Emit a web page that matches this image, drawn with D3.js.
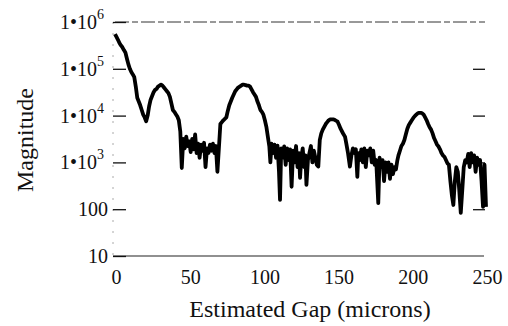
<!DOCTYPE html>
<html><head><meta charset="utf-8">
<script src="https://cdn.jsdelivr.net/npm/d3@7"></script>
<style>body{margin:0;background:#fff}svg{display:block}</style>
</head><body>
<script>
// Estimated gap (microns)
const gaps = [0,1,2,3,4,5,6,7,8,9,10,11,12,13,14,15,16,17,18,19,20,21,22,23,24,25,26,27,28,29,30,31,32,33,34,35,36,37,38,39,40,41,42,43,44,45,46,47,48,49,50,51,52,53,54,55,56,57,58,59,60,61,62,63,64,65,66,67,68,69,70,71,72,73,74,75,76,77,78,79,80,81,82,83,84,85,86,87,88,89,90,91,92,93,94,95,96,97,98,99,100,101,102,103,104,104.7,105.5,106.5,107.5,108.5,109.5,110.5,111.2,112,113,114,115,116,117,118,119,120,121,122,123,124,124.7,125.5,126.5,127.5,128.3,129,130,131,132,133,134,135,136,137,138,139,140,141,142,143,144,145,146,147,148,149,150,151,152,153,154,155,156,157,158.3,159.3,160.3,161.3,162.3,163.3,164,165,166,167,168,169,170,171,172,173,174,175,176,177.4,178.3,179.3,180.3,181.3,182.3,183.3,184.3,185.3,186.3,187.3,188.3,189.3,190.3,191,192,193,194,195,196,197,198,199,200,201,202,203,204,205,206,207,208,209,210,211,212,213,214,215,216,217,218,219,220,221,222,223,224,225,226,227,228,229,230,231,232,233,234,235,236,237,238,239,240,241,242,243,244,245,246,247,248,249,250];
// Magnitude, read as log10 of the value
const magnitudeLog10 = [5.74,5.68,5.62,5.55,5.50,5.46,5.40,5.35,5.22,5.10,5.00,4.93,4.88,4.82,4.62,4.38,4.30,4.22,4.12,4.02,3.96,3.88,4.00,4.20,4.34,4.42,4.50,4.55,4.57,4.62,4.64,4.66,4.64,4.60,4.56,4.52,4.48,4.40,4.26,4.12,4.08,4.03,3.98,3.90,3.66,2.88,3.50,3.30,3.55,3.35,3.45,3.22,3.50,3.28,3.60,3.20,3.40,3.10,3.38,3.25,3.42,2.90,3.30,3.20,3.38,3.25,3.40,3.20,3.35,2.80,3.30,3.82,3.86,3.90,3.93,3.96,4.10,4.22,4.30,4.38,4.45,4.52,4.56,4.60,4.62,4.64,4.66,4.66,4.65,4.64,4.64,4.62,4.56,4.50,4.45,4.40,4.30,4.22,4.12,4.08,4.02,3.90,3.76,3.55,3.34,3.00,3.40,3.20,3.38,3.10,3.36,2.80,2.20,3.30,3.10,3.34,2.95,3.30,3.05,3.28,2.48,3.25,3.00,3.35,2.90,3.20,2.67,3.10,3.30,2.90,3.15,2.52,3.05,3.20,3.35,3.00,3.25,3.10,2.95,2.91,3.48,3.62,3.70,3.76,3.82,3.86,3.90,3.92,3.92,3.92,3.91,3.89,3.87,3.80,3.72,3.66,3.60,3.55,3.38,3.20,2.91,3.15,3.30,3.20,3.28,2.69,3.20,3.05,3.28,3.00,3.30,2.90,3.25,3.15,3.30,3.00,3.25,2.95,3.05,2.13,3.10,2.90,3.05,2.60,3.00,2.80,3.00,2.65,2.95,2.75,2.90,2.85,3.05,3.15,3.25,3.35,3.40,3.48,3.60,3.72,3.80,3.85,3.90,3.95,3.99,4.02,4.05,4.06,4.06,4.05,4.02,3.96,3.90,3.82,3.75,3.70,3.62,3.52,3.45,3.38,3.34,3.28,3.20,3.15,3.12,3.05,2.98,2.95,2.60,2.30,2.09,2.60,2.90,2.80,2.40,1.92,2.40,2.90,3.05,3.00,3.18,2.90,3.20,3.00,3.15,2.80,3.10,2.95,3.05,2.60,2.05,2.95,2.05];
const xTicks = [0,50,100,150,200,250];
const yTicks = [1e1,1e2,1e3,1e4,1e5,1e6];
const yTickLabels = [["10",""],["100",""],["1\u202210","3"],["1\u202210","4"],["1\u202210","5"],["1\u202210","6"]];
const xTitle = "Estimated Gap (microns)";
const yTitle = "Magnitude";

const W = 508, H = 326;
const svg = d3.select("body").append("svg").attr("width", W).attr("height", H);
const x = d3.scaleLinear().domain([0, 250]).range([115, 486]);
const y = d3.scaleLog().domain([10, 1e6]).range([256, 22]);
const font = "'Liberation Serif','Times New Roman',serif";

// frame: top dashed line, bottom line, faint left axis
svg.append("line").attr("x1", 115).attr("x2", 485).attr("y1", y(1e6)).attr("y2", y(1e6))
  .attr("stroke", "#333").attr("stroke-width", 1).attr("stroke-dasharray", "14,3,6,3");
svg.append("line").attr("x1", 113).attr("x2", 484).attr("y1", y(10)).attr("y2", y(10))
  .attr("stroke", "#222").attr("stroke-width", 1.2);
svg.append("line").attr("x1", 113).attr("x2", 113).attr("y1", y(1e6)).attr("y2", y(10))
  .attr("stroke", "#aaa").attr("stroke-width", 1).attr("stroke-dasharray", "2,9");

// left ticks
const leftAxis = d3.axisRight(y).tickValues(yTicks).tickSize(13).tickFormat("");
const gl = svg.append("g").attr("transform", "translate(113,0)").call(leftAxis);
gl.select(".domain").remove();
gl.selectAll(".tick line").attr("stroke", "#111").attr("stroke-width", 1.3);
// right ticks
const rightAxis = d3.axisLeft(y).tickValues([1e2,1e3,1e4,1e5]).tickSize(12).tickFormat("");
const gr = svg.append("g").attr("transform", "translate(485,0)").call(rightAxis);
gr.select(".domain").remove();
gr.selectAll(".tick line").attr("stroke", "#111").attr("stroke-width", 1.3);

// y tick labels
yTicks.forEach((v, i) => {
  const t = svg.append("text").attr("x", 108).attr("y", y(v) + 7)
    .attr("text-anchor", "end").attr("font-family", font).attr("font-size", 20).attr("fill", "#111");
  const [base, exp] = yTickLabels[i];
  if (exp) {
    t.attr("x", 104);
    t.append("tspan").text(base);
    t.append("tspan").attr("font-size", 14).attr("dy", -10).text(exp);
  } else {
    t.text(base);
  }
});

// x tick labels
const xa = d3.axisBottom(x).tickValues(xTicks).tickSize(0).tickPadding(0);
const gx = svg.append("g").attr("transform", "translate(1,0)").call(xa);
gx.select(".domain").remove();
gx.selectAll("text").attr("y", 284).attr("dy", 0).attr("font-family", font).attr("font-size", 20).attr("fill", "#111");

// titles
svg.append("text").attr("x", 310).attr("y", 317).attr("text-anchor", "middle")
  .attr("font-family", font).attr("font-size", 24).attr("fill", "#111").text(xTitle);
svg.append("text").attr("transform", "translate(33,140) rotate(-90)").attr("text-anchor", "middle")
  .attr("font-family", font).attr("font-size", 24).attr("fill", "#111").text(yTitle);

// data line
const data = gaps.map((g, i) => ({g, m: Math.pow(10, magnitudeLog10[i])}));
svg.append("path").datum(data)
  .attr("fill", "none").attr("stroke", "#000").attr("stroke-width", 3.8).attr("stroke-linejoin", "round")
  .attr("d", d3.line().x(d => x(d.g)).y(d => y(d.m)));
</script>
</body></html>
